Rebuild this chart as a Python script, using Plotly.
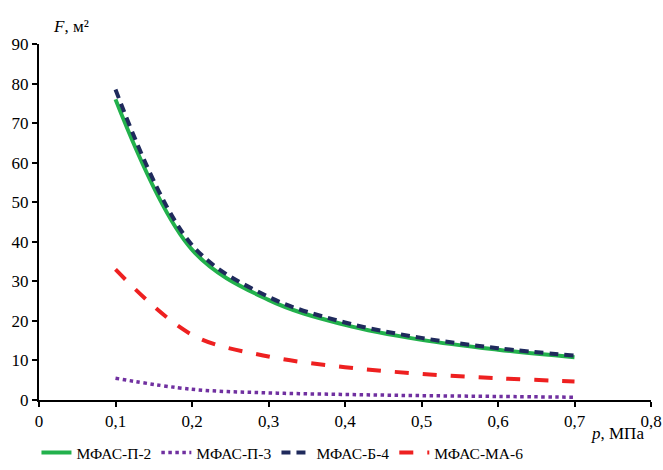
import plotly.graph_objects as go

p = [0.1, 0.2, 0.3, 0.4, 0.5, 0.6, 0.7]
f_p2 = [76.0, 38.0, 25.3, 19.0, 15.2, 12.7, 10.8]
f_p3 = [5.5, 2.7, 1.8, 1.4, 1.1, 0.9, 0.7]
f_b4 = [78.5, 39.2, 26.1, 19.6, 15.7, 13.1, 11.2]
f_ma6 = [33.0, 16.5, 11.0, 8.3, 6.6, 5.5, 4.7]

x_ticks = [0, 0.1, 0.2, 0.3, 0.4, 0.5, 0.6, 0.7, 0.8]
x_ticktext = ["0", "0,1", "0,2", "0,3", "0,4", "0,5", "0,6", "0,7", "0,8"]
y_ticks = [0, 10, 20, 30, 40, 50, 60, 70, 80, 90]

font = "Liberation Serif"

fig = go.Figure()
fig.add_trace(go.Scatter(x=p, y=f_p2, mode="lines", name="МФАС-П-2",
                         line=dict(color="#22b14c", width=4, shape="spline")))
fig.add_trace(go.Scatter(x=p, y=f_p3, mode="lines", name="МФАС-П-3",
                         line=dict(color="#7030a0", width=3.5, dash="dot", shape="spline")))
fig.add_trace(go.Scatter(x=p, y=f_b4, mode="lines", name="МФАС-Б-4",
                         line=dict(color="#1f2a5c", width=4, dash="9px,6px", shape="spline")))
fig.add_trace(go.Scatter(x=p, y=f_ma6, mode="lines", name="МФАС-МА-6",
                         line=dict(color="#ee2020", width=4, dash="14px,14px", shape="spline")))

fig.update_layout(
    template="none",
    width=663, height=470,
    margin=dict(l=39, r=12, t=44, b=70, autoexpand=False),
    paper_bgcolor="white", plot_bgcolor="white",
    font=dict(family=font, size=17, color="black"),
    showlegend=True,
    legend=dict(orientation="h", x=0.055, xanchor="left", xref="container",
                y=-0.02, yref="container", yanchor="bottom",
                font=dict(family=font, size=15.5, color="black"), itemwidth=30, tracegroupgap=0),
    xaxis=dict(range=[0, 0.8], tickvals=x_ticks, ticktext=x_ticktext, automargin=False,
               showline=True, linecolor="black", linewidth=2, ticks="outside",
               tickcolor="black", tickwidth=2, ticklen=5, showgrid=False, zeroline=False,
               tickfont=dict(family=font, size=17, color="black")),
    yaxis=dict(range=[0, 90], tickvals=y_ticks, automargin=False,
               showline=True, linecolor="black", linewidth=2, ticks="outside",
               tickcolor="black", tickwidth=2, ticklen=5, showgrid=False, zeroline=False,
               tickfont=dict(family=font, size=17, color="black")),
    annotations=[
        dict(text="<i>F</i>, м²", xref="paper", yref="paper", x=0.0, y=1.0,
             xanchor="left", yanchor="bottom", yshift=6, xshift=12, showarrow=False,
             font=dict(family=font, size=17, color="black")),
        dict(text="<i>p</i>, МПа", xref="x", yref="paper", x=0.756, y=0,
             xanchor="center", yanchor="top", yshift=-22, showarrow=False,
             font=dict(family=font, size=17, color="black")),
    ],
)

fig.write_html("out.html", config={"displayModeBar": False},
               post_script="document.body.style.margin='0';")
